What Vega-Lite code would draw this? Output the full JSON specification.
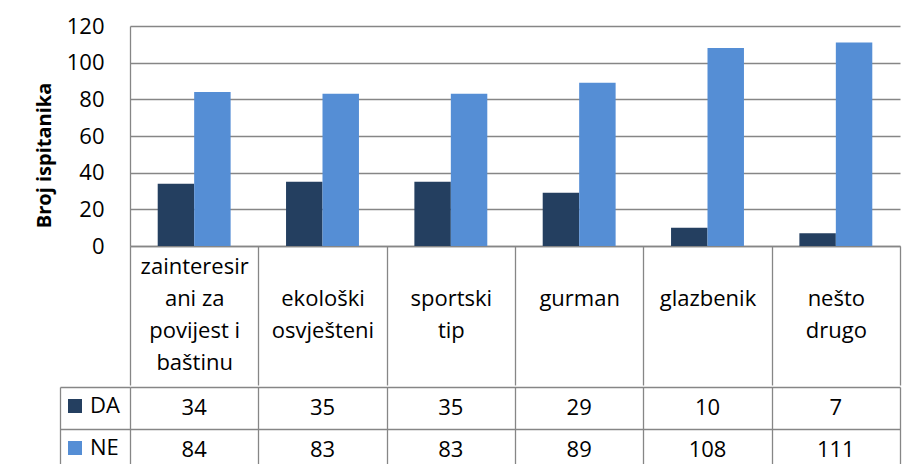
{
  "$schema": "https://vega.github.io/schema/vega-lite/v6.json",
  "padding": {"left": 33, "top": 15, "right": 10, "bottom": 0},
  "background": "white",
  "data": {"values": [
    {"kategorija": "zainteresirani za povijest i baštinu", "odgovor": "DA", "broj": 34},
    {"kategorija": "zainteresirani za povijest i baštinu", "odgovor": "NE", "broj": 84},
    {"kategorija": "ekološki osvješteni", "odgovor": "DA", "broj": 35},
    {"kategorija": "ekološki osvješteni", "odgovor": "NE", "broj": 83},
    {"kategorija": "sportski tip", "odgovor": "DA", "broj": 35},
    {"kategorija": "sportski tip", "odgovor": "NE", "broj": 83},
    {"kategorija": "gurman", "odgovor": "DA", "broj": 29},
    {"kategorija": "gurman", "odgovor": "NE", "broj": 89},
    {"kategorija": "glazbenik", "odgovor": "DA", "broj": 10},
    {"kategorija": "glazbenik", "odgovor": "NE", "broj": 108},
    {"kategorija": "nešto drugo", "odgovor": "DA", "broj": 7},
    {"kategorija": "nešto drugo", "odgovor": "NE", "broj": 111}
  ]},
  "config": {
    "font": "Open Sans",
    "view": {"stroke": null},
    "concat": {"spacing": 0},
    "axis": {
      "labelFont": "Open Sans", "labelFontSize": 22, "labelColor": "#000000",
      "gridColor": "#868686", "gridWidth": 1.3, "domainColor": "#868686", "domainWidth": 1.3,
      "tickColor": "#868686", "tickWidth": 1.3,
      "titleFont": "Open Sans", "titleColor": "#000000"
    }
  },
  "vconcat": [
    {
      "width": 770,
      "height": 220,
      "mark": {"type": "bar"},
      "encoding": {
        "x": {
          "field": "kategorija", "type": "nominal",
          "sort": ["zainteresirani za povijest i baštinu", "ekološki osvješteni", "sportski tip", "gurman", "glazbenik", "nešto drugo"],
          "scale": {"paddingInner": 0, "paddingOuter": 0},
          "axis": {
            "title": null, "tickBand": "extent", "tickSize": 139,
            "labelPadding": -101.5,
            "labelBaseline": {
              "condition": {"test": "datum.value == 'zainteresirani za povijest i baštinu'", "value": "line-bottom"},
              "value": "line-top"
            },
            "labelAngle": 0,
            "labelLineHeight": 32, "labelOverlap": false, "labelBound": false,
            "labelExpr": "datum.label == 'zainteresirani za povijest i baštinu' ? ['zainteresir', 'ani za', 'povijest i', 'baštinu'] : split(datum.label, ' ')"
          }
        },
        "xOffset": {"field": "odgovor", "scale": {"paddingInner": 0, "paddingOuter": 0.76}},
        "y": {
          "field": "broj", "type": "quantitative",
          "scale": {"domain": [0, 120]},
          "axis": {
            "title": "Broj ispitanika", "values": [0, 20, 40, 60, 80, 100, 120],
            "ticks": false, "labelPadding": 26,
            "titleFontSize": 20, "titleFontWeight": "bold",
            "titleY": 129, "titleX": -80, "titleBaseline": "alphabetic"
          }
        },
        "color": {
          "field": "odgovor", "type": "nominal",
          "scale": {"domain": ["DA", "NE"], "range": ["#243f60", "#558ed5"]},
          "legend": {
            "orient": "none", "legendX": -66, "legendY": 369, "title": null,
            "direction": "vertical", "symbolType": "square", "symbolSize": 196,
            "symbolStrokeWidth": 0, "labelFont": "Open Sans", "labelFontSize": 22,
            "labelColor": "#000000", "labelOffset": 4, "rowPadding": 20
          }
        }
      }
    },
    {
      "width": 770,
      "height": 84,
      "mark": {"type": "text", "fontSize": 22, "font": "Open Sans", "color": "#000000"},
      "encoding": {
        "x": {
          "field": "kategorija", "type": "nominal",
          "sort": ["zainteresirani za povijest i baštinu", "ekološki osvješteni", "sportski tip", "gurman", "glazbenik", "nešto drugo"],
          "scale": {"paddingInner": 0, "paddingOuter": 0},
          "axis": {"title": null, "labels": false, "ticks": false, "domain": false, "grid": true, "tickBand": "extent"}
        },
        "y": {
          "field": "odgovor", "type": "nominal",
          "scale": {"paddingInner": 0, "paddingOuter": 0},
          "axis": {"title": null, "labels": false, "offset": 70, "tickBand": "extent", "tickSize": -70, "grid": true}
        },
        "text": {"field": "broj", "type": "quantitative"}
      }
    }
  ]
}
